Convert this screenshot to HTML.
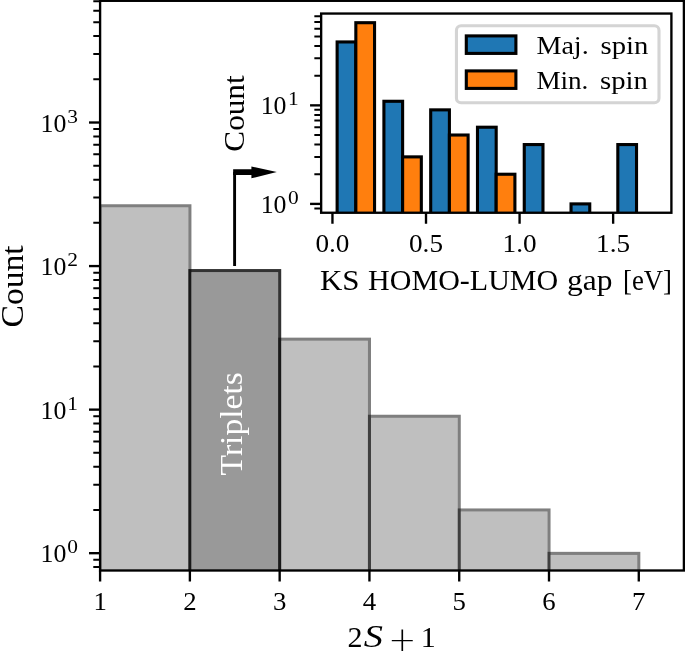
<!DOCTYPE html>
<html lang="en"><head><meta charset="utf-8"><title>Spin multiplicity histogram</title>
<style>html,body{margin:0;padding:0;background:#fff}svg{display:block}text{font-family:"Liberation Serif","DejaVu Serif",serif;fill:#000}.tk{font-size:24.5px}.tn{font-size:25.2px}.sp{font-size:19px}.pl{font-family:"DejaVu Sans Light","DejaVu Sans","Liberation Sans",sans-serif;font-weight:200;font-size:33.5px}.lb{font-size:32.3px}.il{font-size:29.4px}</style></head><body>
<svg width="685" height="651" viewBox="0 0 685 651">
<rect width="685" height="651" fill="#fff"/>
<defs><clipPath id="cm"><rect x="100.1" y="0.8" width="583.80" height="569.70"/></clipPath><clipPath id="ci"><rect x="321.15" y="13.55" width="350.25" height="199.20"/></clipPath></defs>
<g clip-path="url(#cm)">
<rect x="100.10" y="205.80" width="89.78" height="414.20" fill="#bfbfbf"/>
<rect x="189.88" y="270.60" width="89.78" height="349.40" fill="#999999"/>
<rect x="279.66" y="339.20" width="89.78" height="280.80" fill="#bfbfbf"/>
<rect x="369.44" y="416.30" width="89.78" height="203.70" fill="#bfbfbf"/>
<rect x="459.22" y="510.00" width="89.78" height="110.00" fill="#bfbfbf"/>
<rect x="549.00" y="553.40" width="89.78" height="66.60" fill="#bfbfbf"/>
<rect x="100.10" y="205.80" width="89.78" height="414.20" fill="none" stroke="#fff" stroke-width="3.1"/>
<rect x="189.88" y="270.60" width="89.78" height="349.40" fill="none" stroke="#fff" stroke-width="3.1"/>
<rect x="279.66" y="339.20" width="89.78" height="280.80" fill="none" stroke="#fff" stroke-width="3.1"/>
<rect x="369.44" y="416.30" width="89.78" height="203.70" fill="none" stroke="#fff" stroke-width="3.1"/>
<rect x="459.22" y="510.00" width="89.78" height="110.00" fill="none" stroke="#fff" stroke-width="3.1"/>
<rect x="549.00" y="553.40" width="89.78" height="66.60" fill="none" stroke="#fff" stroke-width="3.1"/>
<rect x="100.10" y="205.80" width="89.78" height="414.20" fill="none" stroke="#000" stroke-opacity="0.5" stroke-width="3.1"/>
<rect x="189.88" y="270.60" width="89.78" height="349.40" fill="none" stroke="#000" stroke-opacity="0.8" stroke-width="3.1"/>
<rect x="279.66" y="339.20" width="89.78" height="280.80" fill="none" stroke="#000" stroke-opacity="0.5" stroke-width="3.1"/>
<rect x="369.44" y="416.30" width="89.78" height="203.70" fill="none" stroke="#000" stroke-opacity="0.5" stroke-width="3.1"/>
<rect x="459.22" y="510.00" width="89.78" height="110.00" fill="none" stroke="#000" stroke-opacity="0.5" stroke-width="3.1"/>
<rect x="549.00" y="553.40" width="89.78" height="66.60" fill="none" stroke="#000" stroke-opacity="0.5" stroke-width="3.1"/>
</g>
<text class="lb" transform="translate(242.2 475.4) rotate(-90)" textLength="103.3" lengthAdjust="spacingAndGlyphs" style="fill:#fff">Triplets</text>
<path d="M234.6 266 V172.1" stroke="#000" stroke-width="2.9" fill="none"/>
<path d="M233.15 169.3 H251.4 V166.4 L276.8 172.1 L251.4 178.3 V174.9 H233.15 Z" fill="#000"/>
<path d="M89.00 553.19 H100.10" stroke="#000" stroke-width="2.35"/>
<path d="M89.00 409.63 H100.10" stroke="#000" stroke-width="2.35"/>
<path d="M89.00 266.07 H100.10" stroke="#000" stroke-width="2.35"/>
<path d="M89.00 122.51 H100.10" stroke="#000" stroke-width="2.35"/>
<path d="M93.30 567.10H100.10M93.30 559.76H100.10M93.30 509.97H100.10M93.30 484.69H100.10M93.30 466.76H100.10M93.30 452.85H100.10M93.30 441.48H100.10M93.30 431.87H100.10M93.30 423.54H100.10M93.30 416.20H100.10M93.30 366.41H100.10M93.30 341.13H100.10M93.30 323.20H100.10M93.30 309.29H100.10M93.30 297.92H100.10M93.30 288.31H100.10M93.30 279.98H100.10M93.30 272.64H100.10M93.30 222.85H100.10M93.30 197.57H100.10M93.30 179.64H100.10M93.30 165.73H100.10M93.30 154.36H100.10M93.30 144.75H100.10M93.30 136.42H100.10M93.30 129.08H100.10M93.30 79.29H100.10M93.30 54.01H100.10M93.30 36.08H100.10M93.30 22.17H100.10M93.30 10.80H100.10M93.30 1.19H100.10" stroke="#000" stroke-width="2.0" fill="none"/>
<path d="M100.10 570.50V581.60M189.88 570.50V581.60M279.66 570.50V581.60M369.44 570.50V581.60M459.22 570.50V581.60M549.00 570.50V581.60M638.78 570.50V581.60" stroke="#000" stroke-width="2.35" fill="none"/>
<rect x="100.1" y="0.8" width="583.80" height="569.70" fill="none" stroke="#000" stroke-width="2.35"/>
<text class="tk" x="100.10" y="610.2" text-anchor="middle" textLength="13.4" lengthAdjust="spacingAndGlyphs">1</text>
<text class="tk" x="189.88" y="610.2" text-anchor="middle" textLength="13.4" lengthAdjust="spacingAndGlyphs">2</text>
<text class="tk" x="279.66" y="610.2" text-anchor="middle" textLength="13.4" lengthAdjust="spacingAndGlyphs">3</text>
<text class="tk" x="369.44" y="610.2" text-anchor="middle" textLength="13.4" lengthAdjust="spacingAndGlyphs">4</text>
<text class="tk" x="459.22" y="610.2" text-anchor="middle" textLength="13.4" lengthAdjust="spacingAndGlyphs">5</text>
<text class="tk" x="549.00" y="610.2" text-anchor="middle" textLength="13.4" lengthAdjust="spacingAndGlyphs">6</text>
<text class="tk" x="638.78" y="610.2" text-anchor="middle" textLength="13.4" lengthAdjust="spacingAndGlyphs">7</text>
<text class="tn"><tspan x="40.6" y="562.29" textLength="25.8" lengthAdjust="spacingAndGlyphs">10</tspan><tspan class="sp" x="67.3" y="553.29" textLength="10.7" lengthAdjust="spacingAndGlyphs">0</tspan></text>
<text class="tn"><tspan x="40.6" y="418.73" textLength="25.8" lengthAdjust="spacingAndGlyphs">10</tspan><tspan class="sp" x="67.3" y="409.73" textLength="10.7" lengthAdjust="spacingAndGlyphs">1</tspan></text>
<text class="tn"><tspan x="40.6" y="275.17" textLength="25.8" lengthAdjust="spacingAndGlyphs">10</tspan><tspan class="sp" x="67.3" y="266.17" textLength="10.7" lengthAdjust="spacingAndGlyphs">2</tspan></text>
<text class="tn"><tspan x="40.6" y="131.61" textLength="25.8" lengthAdjust="spacingAndGlyphs">10</tspan><tspan class="sp" x="67.3" y="122.61" textLength="10.7" lengthAdjust="spacingAndGlyphs">3</tspan></text>
<text transform="translate(22.7 326.1) rotate(-90)" x="-1.38" y="0" style="font-size:31.5px" textLength="82.18" lengthAdjust="spacingAndGlyphs">Count</text>
<text class="lb" y="647.4"><tspan x="347.6" style="font-size:30px">2</tspan><tspan x="363.8" font-style="italic" textLength="19.2" lengthAdjust="spacingAndGlyphs">S</tspan> <tspan class="pl" x="388.2" y="650.6">+</tspan> <tspan x="420.8" y="647.4" style="font-size:30px">1</tspan></text>
<rect x="321.15" y="13.55" width="350.25" height="199.20" fill="#fff"/>
<g clip-path="url(#ci)" stroke="#000" stroke-width="3.1">
<rect x="337.13" y="41.95" width="18.71" height="218.05" fill="#1f77b4"/>
<rect x="355.84" y="22.70" width="18.71" height="237.30" fill="#ff7f0e"/>
<rect x="383.91" y="101.28" width="18.71" height="158.72" fill="#1f77b4"/>
<rect x="402.62" y="156.88" width="18.71" height="103.12" fill="#ff7f0e"/>
<rect x="430.69" y="109.87" width="18.71" height="150.13" fill="#1f77b4"/>
<rect x="449.40" y="135.02" width="18.71" height="124.98" fill="#ff7f0e"/>
<rect x="477.48" y="127.22" width="18.71" height="132.78" fill="#1f77b4"/>
<rect x="496.19" y="174.24" width="18.71" height="85.76" fill="#ff7f0e"/>
<rect x="524.26" y="144.57" width="18.71" height="115.43" fill="#1f77b4"/>
<rect x="571.04" y="203.90" width="18.71" height="56.10" fill="#1f77b4"/>
<rect x="617.82" y="144.57" width="18.71" height="115.43" fill="#1f77b4"/>
</g>
<path d="M310.05 203.90 H321.15" stroke="#000" stroke-width="2.35"/>
<path d="M310.05 105.36 H321.15" stroke="#000" stroke-width="2.35"/>
<path d="M314.35 208.41H321.15M314.35 174.24H321.15M314.35 156.88H321.15M314.35 144.57H321.15M314.35 135.02H321.15M314.35 127.22H321.15M314.35 120.62H321.15M314.35 114.91H321.15M314.35 109.87H321.15M314.35 75.70H321.15M314.35 58.34H321.15M314.35 46.03H321.15M314.35 36.48H321.15M314.35 28.68H321.15M314.35 22.08H321.15M314.35 16.37H321.15" stroke="#000" stroke-width="2.0" fill="none"/>
<path d="M332.45 212.75V223.85M426.01 212.75V223.85M519.58 212.75V223.85M613.14 212.75V223.85" stroke="#000" stroke-width="2.35" fill="none"/>
<rect x="321.15" y="13.55" width="350.25" height="199.20" fill="none" stroke="#000" stroke-width="2.35"/>
<text class="tk" x="332.45" y="252.3" text-anchor="middle" textLength="34.0" lengthAdjust="spacingAndGlyphs">0.0</text>
<text class="tk" x="426.01" y="252.3" text-anchor="middle" textLength="34.0" lengthAdjust="spacingAndGlyphs">0.5</text>
<text class="tk" x="519.58" y="252.3" text-anchor="middle" textLength="34.0" lengthAdjust="spacingAndGlyphs">1.0</text>
<text class="tk" x="613.14" y="252.3" text-anchor="middle" textLength="34.0" lengthAdjust="spacingAndGlyphs">1.5</text>
<text class="tn"><tspan x="260.7" y="212.60" textLength="25.8" lengthAdjust="spacingAndGlyphs">10</tspan><tspan class="sp" x="288.0" y="203.60" textLength="10.7" lengthAdjust="spacingAndGlyphs">0</tspan></text>
<text class="tn"><tspan x="260.7" y="114.06" textLength="25.8" lengthAdjust="spacingAndGlyphs">10</tspan><tspan class="sp" x="288.0" y="105.06" textLength="10.7" lengthAdjust="spacingAndGlyphs">1</tspan></text>
<text transform="translate(243.9 150.4) rotate(-90)" x="-1.28" y="0" style="font-size:29.8px" textLength="76.26" lengthAdjust="spacingAndGlyphs">Count</text>
<text class="il" y="290.3"><tspan x="320.01" textLength="39.61" lengthAdjust="spacingAndGlyphs">KS</tspan> <tspan x="368.14" textLength="190.1" lengthAdjust="spacingAndGlyphs">HOMO-LUMO</tspan> <tspan x="567.05" textLength="45.38" lengthAdjust="spacingAndGlyphs">gap</tspan> <tspan x="623.02" textLength="48.97" lengthAdjust="spacingAndGlyphs">[eV]</tspan></text>
<rect x="456.45" y="25.8" width="202.55" height="77.00" rx="4.6" fill="#fff" fill-opacity="0.8" stroke="#d4d4d4" stroke-width="3.1"/>
<rect x="466.3" y="35.9" width="49.6" height="17.5" fill="#1f77b4" stroke="#000" stroke-width="3.1"/>
<rect x="466.3" y="70.9" width="49.6" height="17.5" fill="#ff7f0e" stroke="#000" stroke-width="3.1"/>
<text class="tk" y="53.9"><tspan x="536.4" textLength="52.3" lengthAdjust="spacingAndGlyphs">Maj.</tspan> <tspan x="600.6" textLength="47.8" lengthAdjust="spacingAndGlyphs">spin</tspan></text>
<text class="tk" y="88.6"><tspan x="536.4" textLength="52.0" lengthAdjust="spacingAndGlyphs">Min.</tspan> <tspan x="600.0" textLength="47.8" lengthAdjust="spacingAndGlyphs">spin</tspan></text>
</svg></body></html>
